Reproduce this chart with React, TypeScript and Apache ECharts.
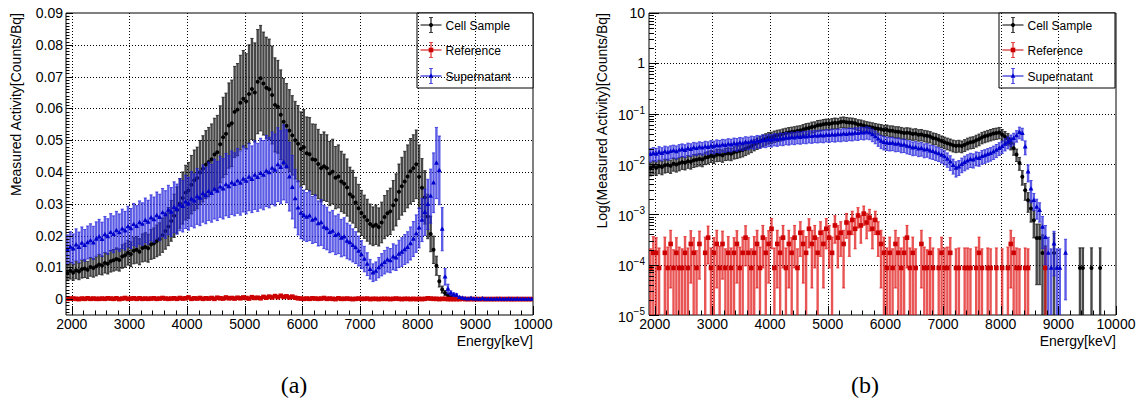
import React, { useEffect, useRef } from 'react';
import * as echarts from 'echarts';

// ---------- data (bin width 50 keV, first bin centre 1925 keV) ----------
const BIN_WIDTH = 50;
const FIRST_BIN_CENTER = 1925;

// Cell Sample, measured activity in 1e-3 Counts/Bq
const CELL = [
  8.2, 8.9, 8.4, 9.1, 8.7, 9.4, 9.6, 9.2, 10.1, 9.8,
  10.3, 10.9, 10.6, 11.4, 11.1, 11.9, 12.2, 12.6, 12.3, 13.4,
  13.8, 14.6, 14.1, 15.2, 15.5, 14.9, 16.1, 16.4, 16.0, 17.2,
  17.6, 18.3, 18.9, 20.1, 21.4, 22.8, 24.6, 26.2, 28.0, 30.1,
  31.8, 33.5, 34.2, 36.0, 37.4, 38.1, 39.8, 41.0, 42.3, 43.1,
  44.0, 45.5, 46.2, 48.7, 50.9, 52.0, 54.6, 55.3, 58.9, 59.6,
  61.8, 63.0, 62.2, 64.5, 66.1, 65.0, 68.4, 69.5, 67.8, 66.5,
  66.0, 64.2, 61.1, 60.5, 58.0, 55.8, 54.5, 53.0, 51.5, 50.0,
  48.9, 47.2, 47.8, 45.9, 45.6, 44.0, 43.8, 42.5, 41.2, 41.8,
  41.2, 39.5, 40.1, 38.2, 38.6, 37.0, 36.3, 35.1, 33.0, 32.2,
  30.4, 28.6, 27.1, 25.9, 24.8, 23.6, 22.9, 23.4, 22.7, 24.1,
  25.8, 27.0, 27.6, 29.5, 31.2, 33.8, 35.5, 37.0, 38.6, 40.2,
  41.2, 42.4, 38.5, 35.0, 32.0, 26.0, 20.5, 15.5, 10.5, 5.6,
  3.0, 1.9, 1.3, 0.76, 0.34, 0.34, 0.17, 0.086, 0, 0,
  0.17, 0, 0, 0, 0, 0, 0, 0, 0, 0.086,
  0.086, 0, 0, 0.086, 0, 0, 0.086, 0, 0, 0,
  0, 0,
];
const CELL_ERR = [
  2.4, 2.6, 2.5, 2.7, 2.6, 2.8, 2.8, 2.7, 2.9, 2.9,
  3.0, 3.1, 3.0, 3.2, 3.2, 3.4, 3.4, 3.5, 3.5, 3.7,
  3.8, 3.9, 3.9, 4.1, 4.2, 4.1, 4.4, 4.5, 4.4, 4.7,
  4.8, 5.0, 5.1, 5.4, 5.7, 6.0, 6.4, 6.8, 7.3, 7.8,
  8.2, 8.6, 8.8, 9.2, 9.5, 9.7, 10.1, 10.4, 10.7, 10.9,
  11.1, 11.4, 11.6, 12.1, 12.6, 12.8, 13.4, 13.6, 14.3, 14.5,
  14.9, 15.2, 15.0, 15.5, 15.9, 15.6, 16.4, 16.6, 16.2, 15.9,
  15.8, 15.4, 14.8, 14.6, 14.1, 13.6, 13.3, 12.9, 12.5, 12.2,
  12.0, 11.7, 11.8, 11.4, 11.5, 11.1, 11.2, 10.9, 10.6, 10.8,
  10.5, 10.1, 10.2, 9.8, 9.9, 9.5, 9.3, 9.0, 8.5, 8.3,
  7.9, 7.5, 7.1, 6.8, 6.6, 6.3, 6.1, 6.2, 6.0, 6.4,
  6.8, 7.1, 7.3, 7.8, 8.2, 8.7, 9.1, 9.5, 9.9, 10.3,
  10.5, 10.8, 10.0, 9.2, 8.4, 7.0, 5.6, 4.3, 3.0, 1.8,
  1.1, 0.8, 0.6, 0.42, 0.3, 0.3, 0.22, 0.15, 0, 0,
  0.25, 0, 0, 0, 0, 0, 0, 0, 0, 0.13,
  0.13, 0, 0, 0.13, 0, 0, 0.13, 0, 0, 0,
  0, 0,
];

// Supernatant, 1e-3 Counts/Bq
const SUPER = [
  15.6, 16.4, 15.8, 17.1, 16.3, 17.6, 16.9, 17.8, 18.4, 17.7,
  18.9, 19.6, 18.8, 20.3, 19.7, 21.0, 20.4, 21.6, 20.9, 22.1,
  21.5, 22.8, 22.2, 23.5, 22.9, 24.1, 23.6, 24.8, 24.2, 25.6,
  25.0, 26.3, 25.7, 27.2, 26.6, 28.0, 27.4, 28.9, 28.3, 29.7,
  29.2, 30.6, 30.0, 31.5, 30.9, 32.3, 31.8, 33.2, 32.6, 33.9,
  33.3, 34.6, 34.0, 35.3, 34.7, 36.0, 35.4, 36.6, 36.1, 37.2,
  36.5, 37.8, 37.1, 38.4, 37.7, 39.0, 38.3, 39.6, 39.0, 40.3,
  39.8, 41.2, 40.6, 42.3, 41.5, 43.0, 41.8, 38.5, 35.2, 31.6,
  28.7, 27.1, 26.4, 25.8, 26.2, 24.9, 25.3, 23.8, 24.1, 22.7,
  22.2, 21.0, 21.4, 20.1, 20.5, 19.2, 19.6, 18.3, 17.8, 16.9,
  16.2, 15.1, 14.0, 12.6, 11.0, 9.4, 8.3, 8.8, 9.9, 10.8,
  11.6, 12.4, 12.1, 13.3, 13.0, 14.2, 14.8, 15.6, 16.3, 17.5,
  18.9, 20.6, 22.4, 24.9, 27.3, 29.8, 32.4, 36.6, 42.8, 40.5,
  22.0, 7.0, 3.2, 1.9, 1.4, 1.2, 0.56, 0.35, 0.17, 0.086,
  0.26, 0.086, 0.086, 0, 0.17, 0, 0, 0, 0, 0,
  0, 0, 0, 0, 0, 0, 0, 0, 0, 0,
  0, 0,
];
const SUPER_ERR = [
  4.6, 4.8, 4.7, 5.0, 4.8, 5.1, 5.0, 5.2, 5.3, 5.2,
  5.4, 5.5, 5.4, 5.7, 5.6, 5.9, 5.8, 6.0, 5.9, 6.2,
  6.1, 6.4, 6.3, 6.6, 6.5, 6.8, 6.7, 7.0, 6.9, 7.2,
  7.1, 7.4, 7.3, 7.6, 7.5, 7.8, 7.7, 8.0, 7.9, 8.2,
  8.1, 8.4, 8.3, 8.6, 8.5, 8.8, 8.7, 9.0, 8.9, 9.2,
  9.1, 9.4, 9.3, 9.6, 9.5, 9.8, 9.7, 10.0, 9.9, 10.2,
  10.1, 10.4, 10.3, 10.6, 10.5, 10.8, 10.7, 11.0, 10.9, 11.2,
  11.1, 11.4, 11.3, 11.6, 11.5, 11.8, 11.5, 10.8, 10.0, 9.2,
  8.5, 8.1, 7.9, 7.7, 7.8, 7.4, 7.5, 7.1, 7.2, 6.8,
  6.7, 6.4, 6.5, 6.1, 6.2, 5.9, 6.0, 5.6, 5.5, 5.2,
  5.0, 4.7, 4.4, 4.0, 3.6, 3.1, 2.8, 2.9, 3.2, 3.5,
  3.7, 3.9, 3.8, 4.1, 4.0, 4.3, 4.5, 4.7, 4.9, 5.2,
  5.5, 5.9, 6.3, 6.8, 7.3, 7.9, 8.5, 9.4, 11.2, 10.8,
  6.8, 2.6, 1.5, 0.7, 0.6, 0.5, 0.35, 0.25, 0.18, 0.12,
  0.2, 0.12, 0.12, 0, 0.15, 0, 0, 0, 0, 0,
  0, 0, 0, 0, 0, 0, 0, 0, 0, 0,
  0, 0,
];

// Reference: counts per bin (one count = REF_UNIT Counts/Bq) and their errors
const REF_UNIT = 8.6e-5;
const REF_COUNTS = [
  1, 2, 2, 1, 0, 2, 1, 3, 1, 2,
  1, 1, 2, 1, 3, 2, 1, 3, 0, 2,
  4, 1, 2, 3, 1, 3, 1, 2, 1, 2,
  3, 1, 2, 4, 2, 1, 2, 3, 1, 4,
  2, 3, 6, 1, 3, 2, 4, 1, 3, 2,
  4, 1, 5, 3, 2, 6, 3, 4, 2, 5,
  3, 6, 4, 2, 7, 4, 5, 3, 8, 5,
  9, 6, 11, 7, 12, 8, 10, 6, 9, 5,
  3, 2, 1, 2, 1, 3, 2, 1, 2, 4,
  1, 2, 1, 0, 3, 1, 1, 2, 1, 0,
  1, 2, 1, 1, 2, 0, 1, 1, 0, 1,
  1, 1, 0, 1, 2, 1, 0, 1, 1, 0,
  1, 0, 1, 0, 1, 3, 2, 1, 1, 0,
  1, 1, 0, 0, 0, 0, 0, 1, 0, 0,
  0, 0, 0, 0, 0, 0, 0, 0, 0, 0,
  0, 0, 0, 0, 0, 0, 0, 0, 0, 0,
  0, 0,
];
const REF_COUNT_ERR = [
  1.4, 2.2, 2.0, 1.5, 0, 2.1, 1.6, 2.6, 1.3, 2.0,
  1.6, 1.4, 2.2, 1.5, 2.5, 2.0, 1.2, 2.4, 0, 2.1,
  2.8, 1.5, 2.0, 2.6, 1.7, 2.4, 1.4, 2.2, 1.5, 2.0,
  2.5, 1.6, 2.1, 2.9, 2.0, 1.4, 2.2, 2.6, 1.6, 3.0,
  2.0, 2.5, 3.6, 1.5, 2.6, 2.1, 3.0, 1.5, 2.6, 2.0,
  3.0, 1.4, 3.3, 2.5, 2.2, 3.5, 2.6, 3.0, 2.0, 3.3,
  2.6, 3.6, 3.0, 2.1, 3.9, 3.0, 3.3, 2.6, 4.1, 3.3,
  4.4, 3.6, 4.8, 3.9, 5.0, 4.2, 4.6, 3.6, 4.4, 3.3,
  2.6, 2.1, 1.5, 2.1, 1.4, 2.6, 2.0, 1.5, 2.1, 3.0,
  1.5, 2.1, 1.4, 0, 2.6, 1.6, 1.3, 2.0, 1.5, 0,
  1.4, 2.1, 1.5, 1.6, 2.0, 0, 1.4, 1.5, 0, 1.5,
  1.5, 1.4, 0, 1.6, 2.1, 1.4, 0, 1.5, 1.4, 0,
  1.5, 0, 1.4, 0, 1.6, 2.6, 2.0, 1.5, 1.4, 0,
  1.5, 1.4, 0, 0, 0, 0, 0, 1.5, 0, 0,
  0, 0, 0, 0, 0, 0, 0, 0, 0, 0,
  0, 0, 0, 0, 0, 0, 0, 0, 0, 0,
  0, 0,
];

const X_TICKS = [2000, 3000, 4000, 5000, 6000, 7000, 8000, 9000, 10000];
const Y_LIN_TICKS = [0, 0.01, 0.02, 0.03, 0.04, 0.05, 0.06, 0.07, 0.08, 0.09];
const Y_LOG_TICKS = [1e-5, 1e-4, 1e-3, 1e-2, 1e-1, 1, 10];

const SERIES_NAMES = ['Cell Sample', 'Reference', 'Supernatant'];
const X_TITLE = 'Energy[keV]';
const Y_TITLE_LIN = 'Measured Activity[Counts/Bq]';
const Y_TITLE_LOG = 'Log(Measured Activity)[Counts/Bq]';
const CAPTIONS = ['(a)', '(b)'];

// ---------- layout / style ----------
const FONT = '"Liberation Sans", Arial, Helvetica, sans-serif';
const SERIF = '"Liberation Serif", "DejaVu Serif", serif';
const X_MIN = 1900, X_MAX = 10000;
const LIN_MIN = -0.005, LIN_MAX = 0.09;
const LOG_MIN = 1e-5, LOG_MAX = 10;
const GRIDS = [
  { left: 66, top: 13, width: 467, height: 302 },
  { left: 649, top: 13, width: 467, height: 302 },
];

const STYLES = {
  cell: { color: '#000000', bar: 'rgba(20,20,20,0.78)', marker: 'circle', bw: 2.4 },
  ref: { color: '#cc0000', bar: 'rgba(225,20,20,0.72)', marker: 'square', bw: 2.4 },
  sup: { color: '#0000cc', bar: 'rgba(30,30,220,0.72)', marker: 'triangle', bw: 2.4 },
};

const ENERGY = CELL.map((_, i) => FIRST_BIN_CENTER + i * BIN_WIDTH);

function points(vals: number[], errs: number[], unit: number) {
  return vals.map((v, i) => [ENERGY[i], v * unit, errs[i] * unit]);
}

function markerShape(kind: string, cx: number, cy: number, color: string): any {
  if (kind === 'circle') return { type: 'circle', shape: { cx, cy, r: 2 }, style: { fill: color } };
  if (kind === 'square') return { type: 'rect', shape: { x: cx - 2.3, y: cy - 2.3, width: 4.6, height: 4.6 }, style: { fill: color } };
  return {
    type: 'polygon',
    shape: { points: [[cx, cy - 2.7], [cx - 2.4, cy + 1.7], [cx + 2.4, cy + 1.7]] },
    style: { fill: color },
  };
}

function errSeries(name: string, gi: number, pts: number[][], st: any, isLog: boolean) {
  const data = isLog ? pts.filter((p) => p[1] > 0) : pts;
  const floor = isLog ? LOG_MIN : LIN_MIN;
  return {
    type: 'custom',
    name,
    xAxisIndex: gi,
    yAxisIndex: gi,
    clip: true,
    silent: true,
    z: 10,
    data,
    encode: { x: 0, y: 1 },
    renderItem: (params: any, api: any) => {
      const e = api.value(0) as number;
      const v = api.value(1) as number;
      const err = api.value(2) as number;
      const c = api.coord([e, v]);
      const children: any[] = [];
      if (err > 0) {
        const loClipped = v - err <= floor;
        const lo = Math.max(v - err, floor);
        const hi = Math.min(v + err, isLog ? LOG_MAX : LIN_MAX);
        const pLo = api.coord([e, lo]);
        const pHi = api.coord([e, hi]);
        children.push({ type: 'line', shape: { x1: c[0], y1: pLo[1], x2: c[0], y2: pHi[1] }, style: { stroke: st.bar, lineWidth: st.bw } });
        children.push({ type: 'line', shape: { x1: c[0] - 1.6, y1: pHi[1], x2: c[0] + 1.6, y2: pHi[1] }, style: { stroke: st.bar, lineWidth: 1 } });
        if (!loClipped) {
          children.push({ type: 'line', shape: { x1: c[0] - 1.6, y1: pLo[1], x2: c[0] + 1.6, y2: pLo[1] }, style: { stroke: st.bar, lineWidth: 1 } });
        }
      }
      const xl = api.coord([e - BIN_WIDTH / 2, v])[0];
      const xr = api.coord([e + BIN_WIDTH / 2, v])[0];
      children.push({ type: 'line', shape: { x1: xl, y1: c[1], x2: xr, y2: c[1] }, style: { stroke: st.color, lineWidth: 1.2 } });
      children.push(markerShape(st.marker, c[0], c[1], st.color));
      return { type: 'group', children };
    },
  };
}

// vertical decoration lines (grid lines or x ticks)
function vDeco(gi: number, xs: number[], yRef: number, len: number, grid: boolean) {
  return {
    type: 'custom', xAxisIndex: gi, yAxisIndex: gi, silent: true, z: grid ? 1 : 30,
    data: xs.map((x) => [x, yRef]),
    encode: { x: 0, y: 1 },
    renderItem: (params: any, api: any) => {
      const cs = params.coordSys;
      const x = Math.round(api.coord([api.value(0), api.value(1)])[0]) + 0.5;
      const bottom = cs.y + cs.height;
      if (grid) {
        return { type: 'line', shape: { x1: x, y1: cs.y, x2: x, y2: bottom }, style: { stroke: '#000', lineWidth: 1, lineDash: [1, 2] } };
      }
      return { type: 'line', shape: { x1: x, y1: bottom, x2: x, y2: bottom - len }, style: { stroke: '#000', lineWidth: 1 } };
    },
  };
}
// horizontal decoration lines (grid lines or y ticks)
function hDeco(gi: number, ys: number[], xRef: number, len: number, grid: boolean) {
  return {
    type: 'custom', xAxisIndex: gi, yAxisIndex: gi, silent: true, z: grid ? 1 : 30,
    data: ys.map((y) => [xRef, y]),
    encode: { x: 0, y: 1 },
    renderItem: (params: any, api: any) => {
      const cs = params.coordSys;
      const y = Math.round(api.coord([api.value(0), api.value(1)])[1]) + 0.5;
      if (grid) {
        return { type: 'line', shape: { x1: cs.x, y1: y, x2: cs.x + cs.width, y2: y }, style: { stroke: '#000', lineWidth: 1, lineDash: [1, 2] } };
      }
      return { type: 'line', shape: { x1: cs.x, y1: y, x2: cs.x + len, y2: y }, style: { stroke: '#000', lineWidth: 1 } };
    },
  };
}

function legendGraphic(left: number, top: number): any {
  const items = [
    { label: SERIES_NAMES[0], st: STYLES.cell, cy: 12.5 },
    { label: SERIES_NAMES[1], st: STYLES.ref, cy: 37.5 },
    { label: SERIES_NAMES[2], st: STYLES.sup, cy: 63.5 },
  ];
  const children: any[] = [
    { type: 'rect', shape: { x: 0.5, y: 0.5, width: 116, height: 75 }, style: { fill: '#fff', stroke: '#000', lineWidth: 1 } },
  ];
  items.forEach((it) => {
    const cx = 14.5;
    children.push({ type: 'line', shape: { x1: 4, y1: it.cy, x2: 25, y2: it.cy }, style: { stroke: it.st.color, lineWidth: 1 } });
    children.push({ type: 'line', shape: { x1: cx, y1: it.cy - 7.5, x2: cx, y2: it.cy + 7.5 }, style: { stroke: it.st.bar, lineWidth: 1.5 } });
    children.push({ type: 'line', shape: { x1: cx - 2, y1: it.cy - 7.5, x2: cx + 2, y2: it.cy - 7.5 }, style: { stroke: it.st.bar, lineWidth: 1 } });
    children.push({ type: 'line', shape: { x1: cx - 2, y1: it.cy + 7.5, x2: cx + 2, y2: it.cy + 7.5 }, style: { stroke: it.st.bar, lineWidth: 1 } });
    children.push(markerShape(it.st.marker, cx, it.cy, it.st.color));
    children.push({
      type: 'text', x: 29, y: it.cy + 1,
      style: { text: it.label, font: `12px ${FONT}`, fill: '#000', textVerticalAlign: 'middle', verticalAlign: 'middle' },
    });
  });
  return { type: 'group', x: left, y: top, z: 50, children };
}

function buildOption(): any {
  const xMinor: number[] = [];
  for (let e = 2000; e <= 10000; e += 200) if (e % 1000 !== 0) xMinor.push(e);
  const yLinMinor: number[] = [];
  for (let k = -4; k <= 89; k++) if (k % 10 !== 0) yLinMinor.push(k / 1000);
  const yLogMinor: number[] = [];
  for (let k = -5; k <= 0; k++) for (let m = 2; m <= 9; m++) yLogMinor.push(m * Math.pow(10, k));

  const cellPts = points(CELL, CELL_ERR, 1e-3);
  const supPts = points(SUPER, SUPER_ERR, 1e-3);
  const refPts = points(REF_COUNTS, REF_COUNT_ERR, REF_UNIT);

  const axisLabelBase = { fontSize: 14, fontFamily: FONT, color: '#000' };

  const xAxis = [0, 1].map((gi) => ({
    gridIndex: gi, type: 'value', min: X_MIN, max: X_MAX,
    axisLine: { show: false }, axisTick: { show: false }, splitLine: { show: false },
    axisLabel: { ...axisLabelBase, customValues: X_TICKS, margin: 2, showMinLabel: true, showMaxLabel: true, formatter: (v: number) => String(v) },
  }));
  const yAxis = [
    {
      gridIndex: 0, type: 'value', min: LIN_MIN, max: LIN_MAX,
      axisLine: { show: false }, axisTick: { show: false }, splitLine: { show: false },
      axisLabel: { ...axisLabelBase, customValues: Y_LIN_TICKS, margin: 3, showMinLabel: true, showMaxLabel: true, formatter: (v: number) => (v === 0 ? '0' : v.toFixed(2)) },
    },
    {
      gridIndex: 1, type: 'log', logBase: 10, min: LOG_MIN, max: LOG_MAX,
      axisLine: { show: false }, axisTick: { show: false }, splitLine: { show: false }, minorTick: { show: false },
      axisLabel: {
        ...axisLabelBase, margin: 4, interval: 0, showMinLabel: true, showMaxLabel: true,
        formatter: (v: number) => {
          const ex = Math.round(Math.log10(v));
          if (ex === 0) return '1';
          if (ex === 1) return '10';
          return '{b|10}{s|\u2212' + -ex + '}';
        },
        rich: {
          b: { fontSize: 14, fontFamily: FONT, color: '#000', padding: [3, 0, 0, 0] },
          s: { fontSize: 10, fontFamily: FONT, color: '#000', verticalAlign: 'top' },
        },
      },
    },
  ];

  const series: any[] = [
    // grid lines
    vDeco(0, X_TICKS.filter((x) => x < X_MAX), 0.01, 0, true),
    hDeco(0, Y_LIN_TICKS.filter((y) => y < LIN_MAX), 2000, 0, true),
    vDeco(1, X_TICKS.filter((x) => x < X_MAX), 1e-3, 0, true),
    hDeco(1, Y_LOG_TICKS.filter((y) => y > LOG_MIN && y < LOG_MAX), 2000, 0, true),
    // data
    errSeries(SERIES_NAMES[0], 0, cellPts, STYLES.cell, false),
    errSeries(SERIES_NAMES[1], 0, refPts, STYLES.ref, false),
    errSeries(SERIES_NAMES[2], 0, supPts, STYLES.sup, false),
    errSeries(SERIES_NAMES[0], 1, cellPts, STYLES.cell, true),
    errSeries(SERIES_NAMES[1], 1, refPts, STYLES.ref, true),
    errSeries(SERIES_NAMES[2], 1, supPts, STYLES.sup, true),
    // ticks
    vDeco(0, X_TICKS, 0.01, 9, false),
    vDeco(0, xMinor, 0.01, 4.5, false),
    hDeco(0, Y_LIN_TICKS, 2000, 7, false),
    hDeco(0, yLinMinor, 2000, 3.5, false),
    vDeco(1, X_TICKS, 1e-3, 9, false),
    vDeco(1, xMinor, 1e-3, 4.5, false),
    hDeco(1, Y_LOG_TICKS, 2000, 10, false),
    hDeco(1, yLogMinor, 2000, 5, false),
  ];

  const titleStyle = { font: `14px ${FONT}`, fill: '#000', textAlign: 'right', align: 'right' };
  const graphic: any[] = [
    legendGraphic(416.5, 12.5),
    legendGraphic(998.5, 12.5),
    { type: 'text', x: 533, y: 334, style: { ...titleStyle, text: X_TITLE, textVerticalAlign: 'top', verticalAlign: 'top' } },
    { type: 'text', x: 1116, y: 334, style: { ...titleStyle, text: X_TITLE, textVerticalAlign: 'top', verticalAlign: 'top' } },
    { type: 'text', x: 16, y: 13, rotation: Math.PI / 2, style: { ...titleStyle, text: Y_TITLE_LIN, textVerticalAlign: 'middle', verticalAlign: 'middle' } },
    { type: 'text', x: 602, y: 13, rotation: Math.PI / 2, style: { ...titleStyle, text: Y_TITLE_LOG, textVerticalAlign: 'middle', verticalAlign: 'middle' } },
    { type: 'text', x: 294, y: 385, style: { text: CAPTIONS[0], font: `24px ${SERIF}`, fill: '#000', textAlign: 'center', align: 'center', textVerticalAlign: 'middle', verticalAlign: 'middle' } },
    { type: 'text', x: 865, y: 385, style: { text: CAPTIONS[1], font: `24px ${SERIF}`, fill: '#000', textAlign: 'center', align: 'center', textVerticalAlign: 'middle', verticalAlign: 'middle' } },
  ];

  return {
    animation: false,
    backgroundColor: '#ffffff',
    grid: GRIDS.map((g) => ({
      ...g, show: true, borderColor: '#000', borderWidth: 1, backgroundColor: 'transparent',
      containLabel: false, outerBoundsMode: 'none',
    })),
    xAxis,
    yAxis,
    series,
    graphic,
  };
}

export default function App() {
  const ref = useRef<HTMLDivElement>(null);
  useEffect(() => {
    if (!ref.current) return;
    const chart = echarts.init(ref.current, null, { renderer: 'svg' });
    chart.setOption(buildOption());
    return () => chart.dispose();
  }, []);
  return (
    <div
      ref={ref}
      style={{ position: 'fixed', left: 0, top: 0, width: 1136, height: 404, background: '#fff' }}
    />
  );
}
